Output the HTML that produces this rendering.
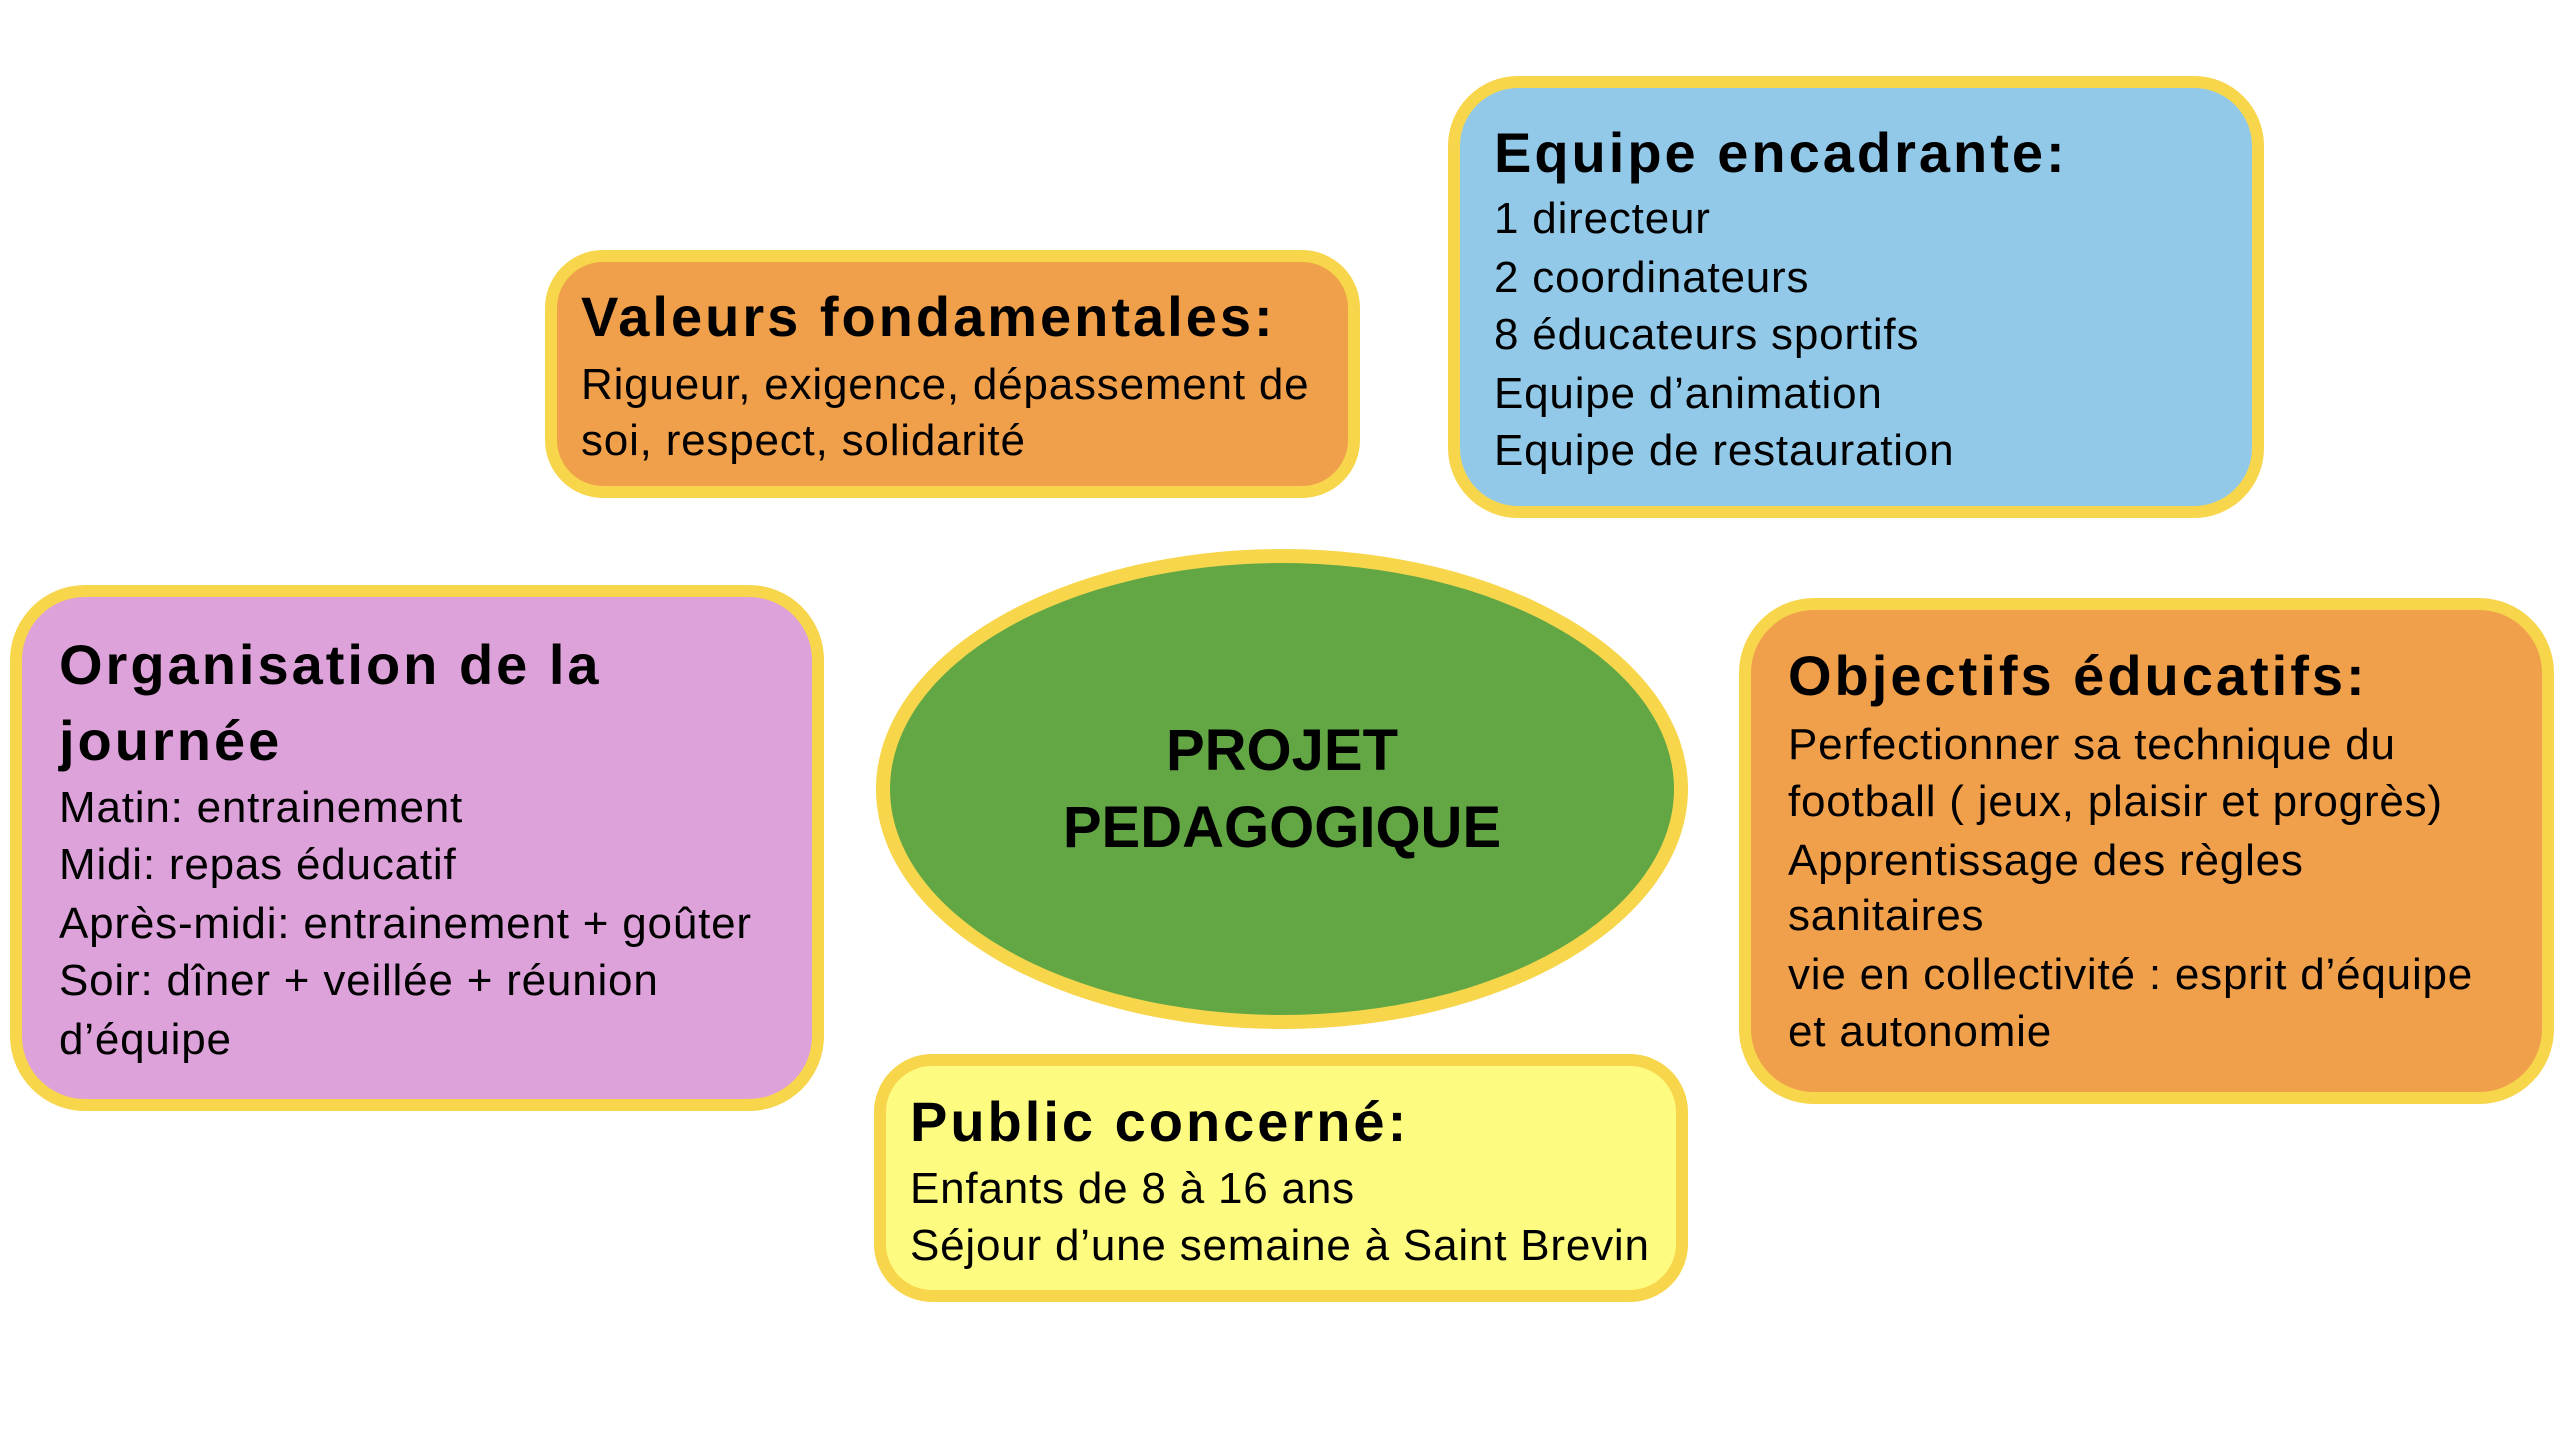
<!DOCTYPE html>
<html><head><meta charset="utf-8"><style>
body{margin:0;width:2560px;height:1433px;background:#fff;position:relative;overflow:hidden;font-family:"Liberation Sans",sans-serif;color:#000}
.b{position:absolute;box-sizing:border-box;border:12px solid #f7d64c;border-radius:58px}
.t{position:absolute;white-space:nowrap;line-height:58px;font-size:44px;letter-spacing:0.8px}
.h{font-weight:bold;font-size:56px;letter-spacing:3px}
</style></head><body>
<div class="b" style="left:545px;top:250px;width:815px;height:248px;background:#f09f4b"></div>
<div class="b" style="left:1448px;top:76px;width:816px;height:442px;background:#93c9e8;border-radius:70px"></div>
<div class="b" style="left:10px;top:585px;width:814px;height:526px;background:#dca2d9;border-radius:75px"></div>
<div class="b" style="left:1739px;top:598px;width:815px;height:506px;background:#f09f4b;border-radius:75px"></div>
<div class="b" style="left:874px;top:1054px;width:814px;height:248px;background:#fdfb80"></div>
<div style="position:absolute;left:876px;top:549px;width:812px;height:480px;box-sizing:border-box;border:14px solid #f7d64c;border-radius:50%;background:#62a744"></div>

<div class="t h" style="left:581px;top:288px">Valeurs fondamentales:</div>
<div class="t" style="left:581px;top:356px">Rigueur, exigence, dépassement de</div>
<div class="t" style="left:581px;top:412px">soi, respect, solidarité</div>

<div class="t h" style="left:1494px;top:124px">Equipe encadrante:</div>
<div class="t" style="left:1494px;top:190px">1 directeur</div>
<div class="t" style="left:1494px;top:249px">2 coordinateurs</div>
<div class="t" style="left:1494px;top:306px">8 éducateurs sportifs</div>
<div class="t" style="left:1494px;top:365px">Equipe d’animation</div>
<div class="t" style="left:1494px;top:422px">Equipe de restauration</div>

<div class="t h" style="left:59px;top:636px">Organisation de la</div>
<div class="t h" style="left:59px;top:712px">journée</div>
<div class="t" style="left:59px;top:779px">Matin: entrainement</div>
<div class="t" style="left:59px;top:836px">Midi: repas éducatif</div>
<div class="t" style="left:59px;top:895px">Après-midi: entrainement + goûter</div>
<div class="t" style="left:59px;top:952px">Soir: dîner + veillée + réunion</div>
<div class="t" style="left:59px;top:1011px">d’équipe</div>

<div class="t h" style="left:1788px;top:647px">Objectifs éducatifs:</div>
<div class="t" style="left:1788px;top:716px">Perfectionner sa technique du</div>
<div class="t" style="left:1788px;top:773px">football ( jeux, plaisir et progrès)</div>
<div class="t" style="left:1788px;top:832px">Apprentissage des règles</div>
<div class="t" style="left:1788px;top:887px">sanitaires</div>
<div class="t" style="left:1788px;top:946px">vie en collectivité : esprit d’équipe</div>
<div class="t" style="left:1788px;top:1003px">et autonomie</div>

<div class="t h" style="left:910px;top:1093px">Public concerné:</div>
<div class="t" style="left:910px;top:1160px">Enfants de 8 à 16 ans</div>
<div class="t" style="left:910px;top:1217px">Séjour d’une semaine à Saint Brevin</div>

<div class="t" style="left:982px;width:600px;text-align:center;top:722px;font-weight:bold;font-size:58px;letter-spacing:0">PROJET</div>
<div class="t" style="left:982px;width:600px;text-align:center;top:799px;font-weight:bold;font-size:58px;letter-spacing:0">PEDAGOGIQUE</div>
</body></html>
